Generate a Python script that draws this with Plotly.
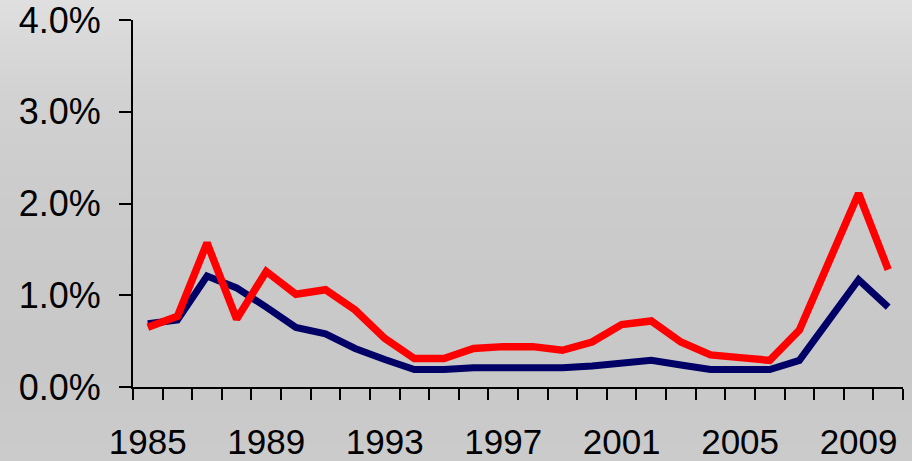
import plotly.graph_objects as go

years = list(range(1985, 2011))
navy_values = [0.69, 0.73, 1.21, 1.08, 0.87, 0.65, 0.58, 0.42, 0.30, 0.19,
               0.19, 0.21, 0.21, 0.21, 0.21, 0.23, 0.26, 0.29, 0.24, 0.19,
               0.19, 0.19, 0.29, 0.73, 1.17, 0.87]
red_values = [0.65, 0.77, 1.57, 0.74, 1.26, 1.01, 1.06, 0.84, 0.53, 0.31,
              0.31, 0.42, 0.44, 0.44, 0.40, 0.49, 0.68, 0.72, 0.49, 0.35,
              0.32, 0.29, 0.62, 1.38, 2.11, 1.28]
x_tick_labels = [1985, 1989, 1993, 1997, 2001, 2005, 2009]
y_tick_values = [0, 1, 2, 3, 4]

fig = go.Figure()
fig.add_trace(go.Scatter(x=years, y=navy_values, mode="lines",
                         line=dict(color="#000066", width=7), showlegend=False))
fig.add_trace(go.Scatter(x=years, y=red_values, mode="lines",
                         line=dict(color="#FF0000", width=7.5), showlegend=False))

# smooth vertical background gradient (paper coords, from top to bottom)
stops = [(0.0, 224), (0.08, 218), (0.2, 210), (0.4, 204), (0.6, 201), (0.8, 200), (1.0, 203)]
n = 60
shapes = []
for i in range(n):
    t = (i + 0.5) / n
    for (a, va), (b, vb) in zip(stops[:-1], stops[1:]):
        if a <= t <= b:
            v = va + (vb - va) * (t - a) / (b - a)
            break
    v = int(round(v))
    y1 = 1.06 - i * (1.06 + 0.2) / n
    y0 = 1.06 - (i + 1) * (1.06 + 0.2) / n
    shapes.append(dict(type="rect", xref="paper", yref="paper",
                       x0=-0.2, x1=1.02, y0=y0 - 0.002, y1=y1,
                       fillcolor=f"rgb({v},{v},{v})", line=dict(width=0), layer="below"))

FONT = "Liberation Sans"

fig.update_layout(
    width=912, height=461,
    margin=dict(l=133, r=9, t=20, b=74),
    paper_bgcolor="rgb(203,203,203)",
    plot_bgcolor="rgba(0,0,0,0)",
    shapes=shapes,
    font=dict(family=FONT, color="black"),
    xaxis=dict(
        automargin=False, ticklabeloverflow="allow",
        range=[1984.5, 2010.5], tickmode="array", tickvals=x_tick_labels,
        ticktext=[str(v) for v in x_tick_labels],
        ticks="outside", ticklen=23, tickcolor="rgba(0,0,0,0)",
        tickfont=dict(size=35, family=FONT),
        showline=True, linecolor="black", linewidth=2, showgrid=False, zeroline=False,
        minor=dict(tickvals=[y - 0.5 for y in years] + [2010.5], ticks="outside",
                   ticklen=11, tickcolor="black", tickwidth=1.5, showgrid=False),
    ),
    yaxis=dict(
        automargin=False, ticklabeloverflow="allow",
        range=[0, 4], tickmode="array", tickvals=y_tick_values,
        ticktext=[f"{v:.1f}%" for v in y_tick_values],
        ticks="outside", ticklen=12, tickwidth=2, tickcolor="black",
        ticklabelstandoff=11,
        tickfont=dict(size=36, family=FONT),
        showline=True, linecolor="black", linewidth=2, showgrid=False, zeroline=False,
    ),
)

fig.write_html(
    "out.html",
    config={"displayModeBar": False},
    post_script="document.body.style.margin='0';document.body.style.padding='0';"
                "document.body.style.overflow='hidden';",
)
